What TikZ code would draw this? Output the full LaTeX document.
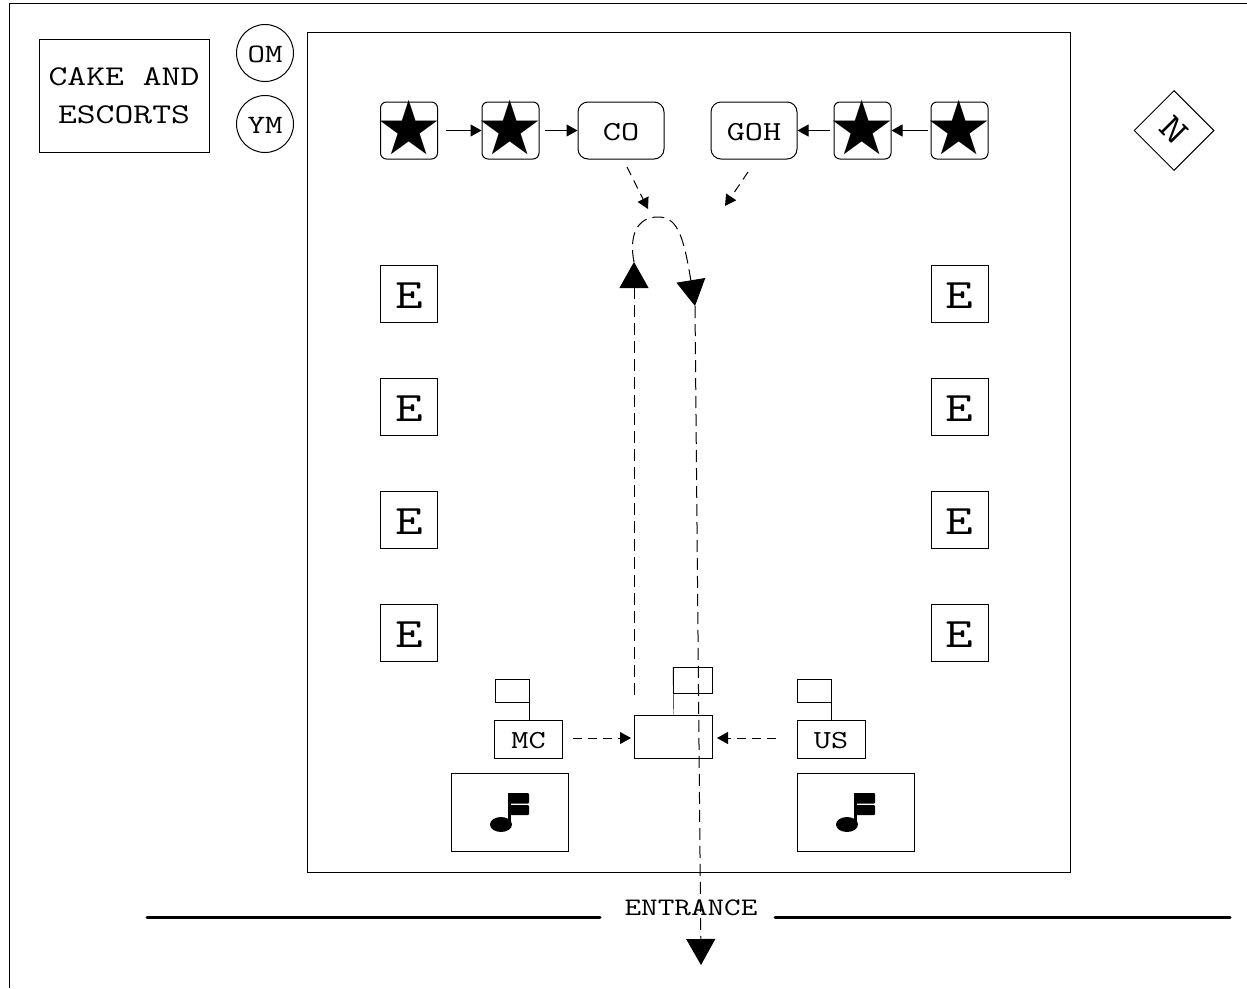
\documentclass[tikz,border=0pt]{standalone}
\usepackage{fontspec}
\newfontfamily\symfont{DejaVu Sans}
\newfontfamily\cour[FakeStretch=1.28]{Latin Modern Mono}
\usetikzlibrary{arrows.meta,shapes.geometric,calc}
\newcommand{\tsize}[1]{\fontsize{#1}{#1}\selectfont\cour}
\newcommand{\lowered}[2]{\raisebox{-#1}[\height][0pt]{#2}}
\newcommand{\starglyph}{\raisebox{-24pt}[0pt][0pt]{\makebox[0pt]{\fontsize{75}{75}\selectfont\symfont ★}}}
\tikzset{
  x=1pt,y=-1pt,
  every node/.style={inner sep=0pt,line width=1pt},
  frame/.style={draw,line width=1pt},
  ebox/.style={draw,minimum width=57,minimum height=57,font=\tsize{42}},
  starbox/.style={draw,rounded corners=6,minimum width=57,minimum height=57},
  namebox/.style={draw,rounded corners=10,minimum width=86,minimum height=57,font=\tsize{27.5}},
  small/.style={draw,minimum width=68,minimum height=38,font=\tsize{26}},
  flagbox/.style={draw,minimum width=34,minimum height=23},
  musicbox/.style={draw,minimum width=117,minimum height=78},
  circ/.style={draw,circle,minimum size=57,font=\tsize{26.5}},
  solidarrow/.style={line width=1pt,-{Triangle[length=11pt,width=12pt]}},
  dasharrow/.style={line width=1pt,dash pattern=on 9pt off 6pt,-{Triangle[length=11pt,width=12pt]}},
  bigdash/.style={line width=1pt,dash pattern=on 12pt off 6pt,-{Triangle[length=26pt,width=29pt]}},
  wall/.style={line width=3pt,line cap=round},
}
\newcommand{\notemark}[2]{%
  \fill (#1-8.5,#2+0.5) ellipse (11 and 7.5);
  \fill (#1-1.5,#2-31) rectangle (#1+1.5,#2-2);
  \fill[rounded corners=1] (#1-1,#2-31) rectangle (#1+19.5,#2-20.5);
  \fill[rounded corners=1] (#1-1,#2-19) rectangle (#1+19.5,#2-9);
}
\begin{document}
\begin{tikzpicture}
\useasboundingbox (0,0) rectangle (1247,988);
\draw[frame] (9,988) -- (9,3.5) -- (1247,3.5);
\node[draw,minimum width=170,minimum height=113,align=center,font=\fontsize{28.6}{38}\selectfont\cour] (title) at (124,95.5) {CAKE AND\\ESCORTS};
\node[circ] (om) at (265,53) {\lowered{1pt}{OM}};
\node[circ] (ym) at (265,124) {\lowered{1pt}{YM}};
\node[draw,minimum width=763,minimum height=840] (hall) at (689,452) {};
\node[draw,diamond,aspect=1,minimum size=80] (north) at (1174,130.5) {};
\node[rotate=-45,font=\tsize{37}] (nlabel) at (1174,130.5) {N};

\node[starbox] (s1) at (409,130.5) {\starglyph};
\node[starbox] (s2) at (510.5,130.5) {\starglyph};
\node[namebox] (co) at (621,130.5) {\lowered{1pt}{CO}};
\node[namebox] (goh) at (754,130.5) {\lowered{1pt}{GOH}};
\node[starbox] (s3) at (862.5,130.5) {\starglyph};
\node[starbox] (s4) at (959.5,130.5) {\starglyph};
\coordinate (a1) at (446,130.5); \coordinate (a2) at (545,130.5);
\coordinate (a3) at (830,130.5); \coordinate (a4) at (928,130.5);
\draw[solidarrow] (a1) -- (s2.west);
\draw[solidarrow] (a2) -- (co.west);
\draw[solidarrow] (a3) -- (goh.east);
\draw[solidarrow] (a4) -- (s3.east);

\foreach \n/\y in {1/293.5,2/406.5,3/519.5,4/632.5}{
  \node[ebox] (el\n) at (409,\y) {\lowered{2pt}{E}};
  \node[ebox] (er\n) at (959.5,\y) {\lowered{2pt}{E}};
}

\coordinate (cofrom) at (627,167); \coordinate (coto) at (648,209);
\coordinate (gohfrom) at (748,172); \coordinate (gohto) at (725,206);
\draw[dasharrow] (cofrom) -- (coto);
\draw[dasharrow] (gohfrom) -- (gohto);

\coordinate (upstart) at (634,695); \coordinate (uptip) at (634,262);
\coordinate (downtip) at (695,306); \coordinate (exittip) at (701,965);
\draw[bigdash] (upstart) -- (uptip);
\draw[bigdash] (uptip) .. controls (629,237) and (636,217) .. (658,217)
   .. controls (676,217) and (683,232) .. (downtip);
\draw[bigdash] (downtip) -- (exittip);

\node[small] (mc) at (528.5,739) {\lowered{1pt}{MC}};
\node[flagbox] (fmc) at (512,690.5) {};
\draw (mc.north-|fmc.north east) -- (fmc.north east);
\node[small] (us) at (831,739) {\lowered{1pt}{US}};
\node[flagbox] (fus) at (814,690.5) {};
\draw (us.north-|fus.north east) -- (fus.north east);
\node[draw,minimum width=78,minimum height=43] (cen) at (673.5,736.5) {};
\node[draw,minimum width=39,minimum height=26] (fcen) at (693,680.5) {};
\draw (cen.north) -- (fcen.north west);

\coordinate (mcfrom) at (573,738); \coordinate (usfrom) at (776,738);
\draw[dasharrow] (mcfrom) -- (631,738);
\draw[dasharrow] (usfrom) -- (717,738);

\node[musicbox] (m1) at (509.5,812) {};
\node[musicbox] (m2) at (855.5,812) {};
\notemark{509.5}{824}
\notemark{855.5}{824}

\node[font=\tsize{25.2}] (entr) at (691,907.5) {ENTRANCE};
\coordinate (w1) at (147,917); \coordinate (w2) at (600,917);
\coordinate (w3) at (775,917); \coordinate (w4) at (1230,917);
\draw[wall] (w1) -- (w2);
\draw[wall] (w3) -- (w4);
\end{tikzpicture}
\end{document}
